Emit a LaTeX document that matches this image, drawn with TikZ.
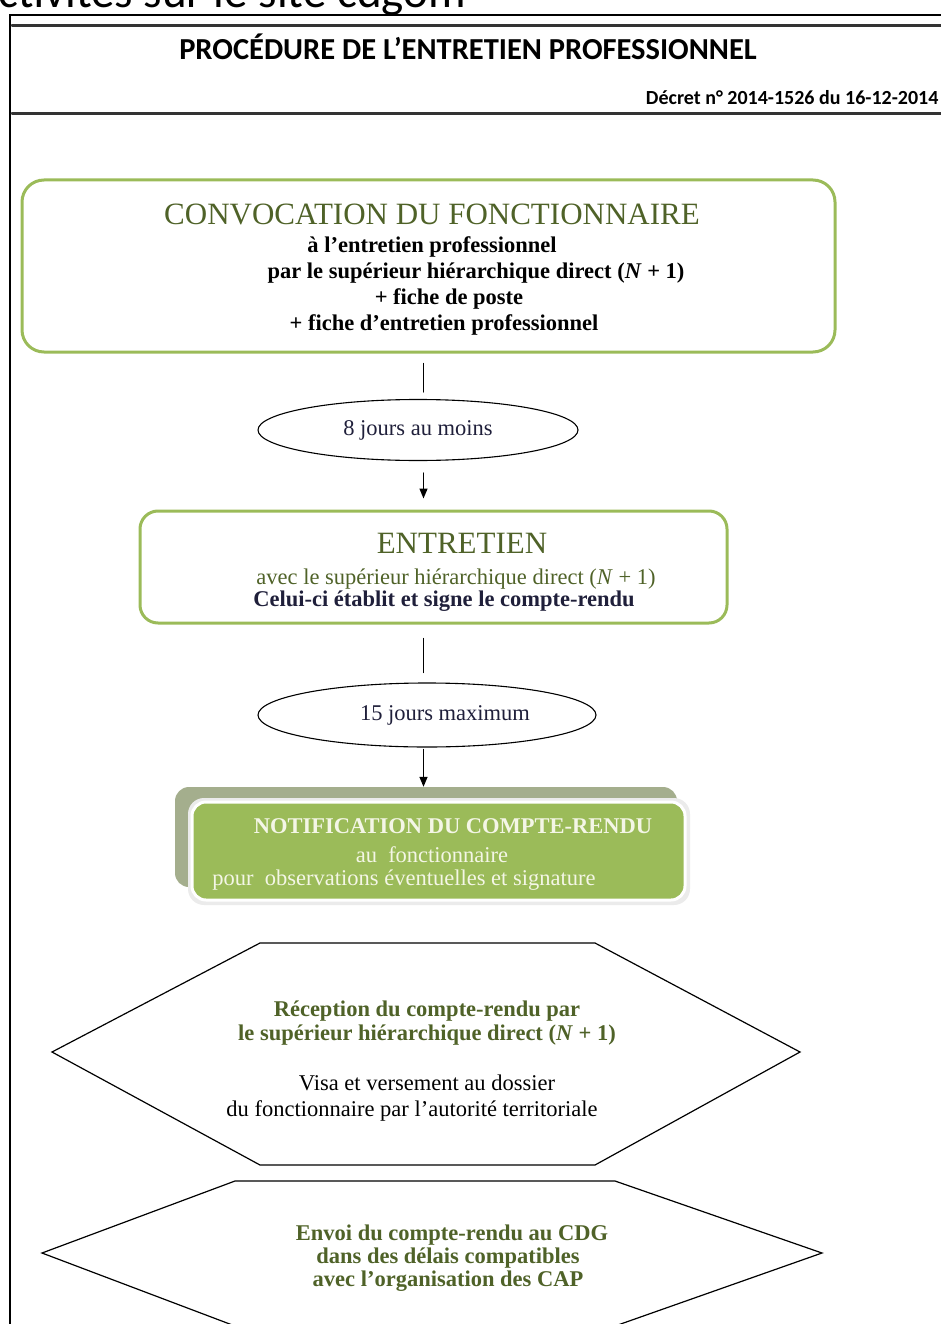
\documentclass[tikz,border=0pt]{standalone}
\usepackage{fontspec}
\setmainfont{Liberation Serif}
\newfontfamily\calib{Carlito}
\usetikzlibrary{arrows.meta,shapes.geometric}
\definecolor{oliv}{HTML}{4F6228}
\definecolor{vert}{HTML}{9BBB59}
\definecolor{ombre}{HTML}{A4AE8D}
\definecolor{creme}{HTML}{F4F6E6}
\definecolor{encre}{HTML}{1F1F3A}
\newcommand\gros{\fontsize{31}{34}\selectfont}
\newcommand\petit{\fontsize{22.5}{26}\selectfont}
\begin{document}
\begin{tikzpicture}[x=1pt,y=-1pt,line cap=round,
  cadre/.style={rounded corners=22pt,draw=vert,line width=3pt},
  bulle/.style={ellipse,draw,line width=1.1pt,inner sep=0pt,font=\petit,text=encre},
  hexa/.style={draw,line width=1.2pt,line join=miter},
  fl/.style={line width=1.4pt},
  fleche/.style={fl,-{Triangle[length=10pt,width=8pt]}},
  txt/.style={align=center,font=\petit,inner sep=0pt}]
\useasboundingbox (0,0) rectangle (940,1324);
% en-tete
\node[anchor=base west,inner sep=0pt,font=\calib\fontsize{47}{47}\selectfont] (haut) at (-2,8) {ctivités sur le site cdgom};
\draw[line width=1.2pt] (10,1330)--(10,15)--(945,15);
\draw[line width=3pt,black!80] (12,26)--(945,26); \draw[line width=3pt,black!80] (12,114)--(945,114);
\node[font=\calib\bfseries\fontsize{30.5}{30.5}\selectfont] (titre) at (468,47) {PROCÉDURE DE L’ENTRETIEN PROFESSIONNEL};
\node[anchor=east,font=\calib\bfseries\fontsize{20}{20}\selectfont] (decret) at (942,98) {Décret n° 2014-1526 du 16-12-2014};
% boites
\node[cadre,minimum width=813,minimum height=172] (conv) at (428.5,266) {};
\node[txt] (convT) at (432,270) {\textcolor{oliv}{\gros CONVOCATION DU FONCTIONNAIRE}\\[2pt]
  \textbf{à l’entretien professionnel}\\ \textbf{\hspace*{88pt}par le supérieur hiérarchique direct (\textit{N} + 1)}\\
  \textbf{\hspace*{34pt}+ fiche de poste}\\ \textbf{\hspace*{24pt}+ fiche d’entretien professionnel}};
\node[bulle,minimum width=320,minimum height=61] (delai1) at (418,430) {8 jours au moins};
\node[cadre,rounded corners=18pt,minimum width=587,minimum height=112] (entr) at (433.5,567) {};
\node[txt] (entrT) at (452,572) {\textcolor{oliv}{\gros\hspace*{20pt}ENTRETIEN}\\[5pt]
  \textcolor{oliv}{\hspace*{8pt}avec le supérieur hiérarchique direct (\textit{N} + 1)}\\[-4pt]
  \textbf{\textcolor{encre}{Celui-ci établit et signe le compte-rendu\hspace*{16pt}}}};
\node[bulle,minimum width=338,minimum height=64] (delai2) at (427,715) {\hspace*{36pt}15 jours maximum};
\node[fill=ombre,rounded corners=14pt,minimum width=502,minimum height=100] (ombre) at (426,837) {};
\fill[black!8,rounded corners=16pt] (188,798) rectangle (690,905);
\node[fill=vert,draw=white,line width=3pt,rounded corners=14pt,minimum width=493,minimum height=98] (notif) at (438.5,851) {};
\node[txt,text=creme] (notifT) at (432,854) {\textbf{\hspace*{42pt}NOTIFICATION DU COMPTE-RENDU}\\[3pt]
  au\ \ fonctionnaire\hspace*{32pt}\\[-3pt] pour\ \ observations éventuelles et signature\hspace*{56pt}};
\draw[hexa] (52,1052)--(260,943)--(595,943)--(800,1052)--(595,1165)--(260,1165)--cycle;
\node[txt] (recepT) at (427,1061) {\textbf{\textcolor{oliv}{Réception du compte-rendu par}}\\[-2pt]
  \textbf{\textcolor{oliv}{le supérieur hiérarchique direct (\textit{N} + 1)}}\\[24pt]
  Visa et versement au dossier\\ du fonctionnaire par l’autorité territoriale\hspace*{30pt}};
\draw[hexa] (42,1253)--(235,1181)--(615,1181)--(822,1253)--(615,1326)--(235,1326)--cycle;
\node[txt,text=oliv,font=\petit\bfseries] (envoiT) at (448,1258) {\hspace*{8pt}Envoi du compte-rendu au CDG\\[-3pt] dans des délais compatibles\\[-3pt] avec l’organisation des CAP};
% liaisons
\draw[fl,shorten <=10pt,shorten >=7pt] ([xshift=-5pt]conv.south) -- ([xshift=-5pt]conv.south |- delai1.north);
\draw[fleche,shorten <=12pt,shorten >=11pt] (delai1.south -| conv.south) ++(-5,0) coordinate (a1) (a1) -- (a1 |- entr.north);
\draw[fl,shorten <=14pt,shorten >=10pt] ([xshift=-10pt]entr.south) -- ([xshift=-10pt]entr.south |- delai2.north);
\draw[fleche,shorten <=2pt] ([xshift=-10pt]entr.south |- delai2.south) -- ([xshift=-10pt]entr.south |- ombre.north);
\end{tikzpicture}
\end{document}
